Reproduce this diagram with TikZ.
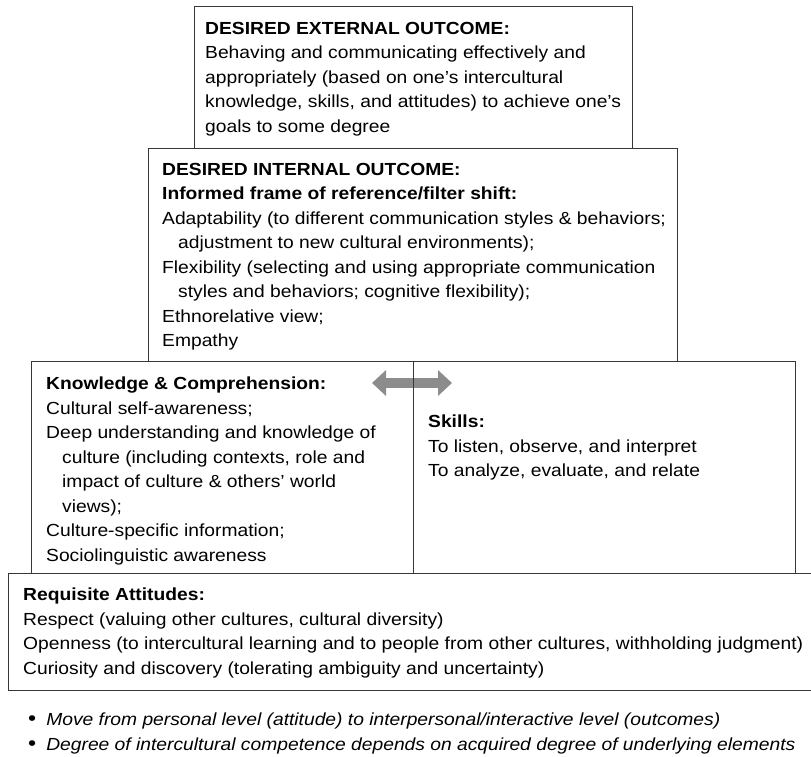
\documentclass[tikz,border=0pt]{standalone}
\usepackage{fontspec}
\setmainfont{Liberation Sans}[FakeStretch=1.1]
\usepackage{xcolor}
\usetikzlibrary{arrows.meta,positioning}
\definecolor{boxline}{RGB}{55,55,55}
\definecolor{arrowgray}{RGB}{140,140,140}
\newcommand{\ind}{\hspace*{16pt}}
\newcommand{\dotmark}{{\fontsize{21}{24.5}\selectfont\textbullet}\hspace{10pt}}

\begin{document}
\begin{tikzpicture}[
  x=1pt, y=-1pt,
  box/.style={draw=boxline, line width=1.3pt, anchor=north west, inner sep=0pt},
  txt/.style={anchor=north west, inner sep=0pt, align=left,
    font=\fontsize{17.5}{24.5}\selectfont},
  twoway/.style={line width=10pt, arrowgray,
    {Triangle[width=25pt,length=14pt]}-{Triangle[width=25pt,length=14pt]}}
]
\useasboundingbox (0,0) rectangle (811,756);

% knowledge <-> skills
\coordinate (left) at (372,383);
\coordinate (right) at (452,383);
\draw[twoway] (left) -- (right);

% boxes
\node[box, minimum width=438pt, minimum height=142pt] (ext) at (194,6) {};
\node[box, minimum width=529pt, minimum height=213pt] (int) at (148,148) {};
\node[box, minimum width=382pt, minimum height=212pt] (know) at (31,361) {};
\node[box, minimum width=382pt, minimum height=212pt] (skill) at (413,361) {};
\node[box, minimum width=820pt, minimum height=117pt] (att) at (8,573) {};

% texts
\node[txt] (exttxt) at (205,22) {\textbf{DESIRED EXTERNAL OUTCOME:}\\
  Behaving and communicating effectively and\\
  appropriately (based on one’s intercultural\\
  knowledge, skills, and attitudes) to achieve one’s\\
  goals to some degree};
\node[txt] (inttxt) at (162,163) {\textbf{DESIRED INTERNAL OUTCOME:}\\
  \textbf{Informed frame of reference/filter shift:}\\
  Adaptability (to different communication styles \& behaviors;\\
  \ind adjustment to new cultural environments);\\
  Flexibility (selecting and using appropriate communication\\
  \ind styles and behaviors; cognitive flexibility);\\
  Ethnorelative view;\\
  Empathy};
\node[txt] (knowtxt) at (46,377) {\textbf{Knowledge \& Comprehension:}\\
  Cultural self-awareness;\\
  Deep understanding and knowledge of\\
  \ind culture (including contexts, role and\\
  \ind impact of culture \& others’ world\\
  \ind views);\\
  Culture-specific information;\\
  Sociolinguistic awareness};
\node[txt] (skilltxt) at (428,415) {\textbf{Skills:}\\
  To listen, observe, and interpret\\
  To analyze, evaluate, and relate};
\node[txt] (atttxt) at (23,588) {\textbf{Requisite Attitudes:}\\
  Respect (valuing other cultures, cultural diversity)\\
  Openness (to intercultural learning and to people from other cultures, withholding judgment)\\
  Curiosity and discovery (tolerating ambiguity and uncertainty)};

% notes
\node[txt] (notes) at (28,713) {\dotmark\textit{Move from personal level (attitude) to interpersonal/interactive level (outcomes)}\\
  \dotmark\textit{Degree of intercultural competence depends on acquired degree of underlying elements}};
\end{tikzpicture}
\end{document}
